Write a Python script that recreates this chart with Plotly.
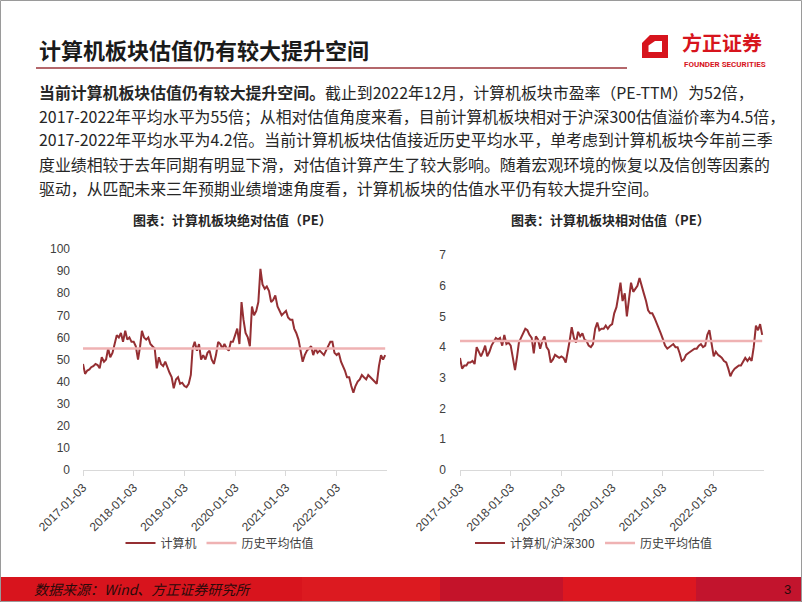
import plotly.graph_objects as go

W, H = 802, 602

def px(x):
    return x / W

def py(y):
    return 1 - y / H

# ---------------- data ----------------
# semi-monthly sampling dates (3rd and 18th of each month), 2017-01 .. 2022-12
dates = [f"{2017 + i // 24}-{(i % 24) // 2 + 1:02d}-{'03' if i % 2 == 0 else '18'}" for i in range(144)]

pe_abs = [
    48, 43.5, 45, 45.5, 46.5, 47, 48, 47.5, 46, 51, 49, 50,
    55, 51, 53, 57, 61, 60, 62, 58, 63, 59, 60, 58,
    58, 56, 50, 56, 63, 60, 59, 60, 57, 56, 55, 46,
    51, 48, 47, 49, 46, 44, 42, 37, 41, 42, 39, 39.5,
    38, 37.5, 39, 43, 55, 58, 54, 57, 50, 52, 50, 53,
    54, 50, 48, 52, 58, 57, 55, 57, 55, 54, 58, 58,
    61, 64, 57, 76, 68, 62, 60, 56, 74, 70, 72, 76,
    91, 84, 82, 83, 81, 76, 77, 79, 74, 72, 70, 71,
    72, 69, 68, 68, 64, 62, 59, 54, 49, 52, 54, 55,
    56, 52, 55, 53, 54, 53, 52, 54, 56, 58, 58, 53,
    52, 53, 49, 47, 45, 42, 42, 38, 35, 38, 40, 41,
    43, 42, 41, 43, 42, 41, 40, 39, 47, 52, 50, 52,
]
pe_abs_avg = 55

pe_rel = [
    3.65, 3.3, 3.4, 3.4, 3.5, 3.5, 3.55, 3.45, 4.0, 3.85, 3.7, 3.85,
    4.05, 3.7, 3.85, 4.05, 4.2, 4.3, 4.25, 4.3, 4.05, 4.4, 4.1, 4.15,
    4.05, 3.7, 3.25, 3.7, 4.15, 4.3, 4.45, 4.6, 4.55, 4.4, 4.3, 3.8,
    4.35, 4.25, 3.95, 4.2, 4.35, 4.0, 3.9, 3.5, 3.6, 3.75, 3.7, 3.65,
    3.7, 3.65, 3.5, 3.85, 4.2, 4.65, 4.3, 4.15, 4.5, 4.35, 4.45, 4.25,
    4.2, 4.05, 4.0, 4.1, 4.6, 4.8, 4.55, 4.6, 4.6, 4.7, 4.6, 4.7,
    4.75, 5.1, 5.3, 5.7, 6.1, 5.5, 5.75, 5.0, 5.5, 6.1, 5.8, 5.9,
    6.0, 6.25, 5.95, 5.75, 5.5, 5.2, 5.1, 5.1, 4.95, 4.8, 4.65, 4.45,
    4.25, 4.05, 3.95, 4.0, 4.05, 4.1, 4.0, 4.0, 3.8, 3.55, 3.6, 3.75,
    3.8, 3.85, 3.9, 3.95, 3.95, 4.05, 4.1, 4.0, 4.05, 4.4, 4.55, 4.2,
    3.7, 3.85, 3.75, 3.7, 3.65, 3.55, 3.5, 3.3, 3.05, 3.2, 3.3, 3.35,
    3.4, 3.4, 3.55, 3.65, 3.55, 3.65, 3.55, 4.0, 4.7, 4.55, 4.75, 4.4,
]
pe_rel_avg = 4.2

tick_dates = ["2017-01-03", "2018-01-03", "2019-01-03", "2020-01-03", "2021-01-03", "2022-01-03"]
abs_yticks = [0, 10, 20, 30, 40, 50, 60, 70, 80, 90, 100]
rel_yticks = [0, 1, 2, 3, 4, 5, 6, 7]

main_title = "计算机板块估值仍有较大提升空间"
para_lines = [
    "<b>当前计算机板块估值仍有较大提升空间。</b>截止到2022年12月，计算机板块市盈率（PE-TTM）为52倍，",
    "2017-2022年平均水平为55倍；从相对估值角度来看，目前计算机板块相对于沪深300估值溢价率为4.5倍，",
    "2017-2022年平均水平为4.2倍。当前计算机板块估值接近历史平均水平，单考虑到计算机板块今年前三季",
    "度业绩相较于去年同期有明显下滑，对估值计算产生了较大影响。随着宏观环境的恢复以及信创等因素的",
    "驱动，从匹配未来三年预期业绩增速角度看，计算机板块的估值水平仍有较大提升空间。",
]
chart1_title = "<b>图表：计算机板块绝对估值（PE）</b>"
chart2_title = "<b>图表：计算机板块相对估值（PE）</b>"
s1_name, s1_avg_name = "计算机", "历史平均估值"
s2_name, s2_avg_name = "计算机/沪深300", "历史平均估值"
source_text = "<i>数据来源：Wind、方正证券研究所</i>"
page_no = "3"

# ---------------- styles ----------------
CJK = "Noto Sans CJK SC"
LAT = "Liberation Sans, Noto Sans CJK SC"
MAIN = "#952f33"
AVG = "#efb2b3"
RED = "#d7141d"

fig = go.Figure()

fig.add_trace(go.Scatter(x=dates, y=pe_abs, mode="lines", name=s1_name,
                         line=dict(color=MAIN, width=2), xaxis="x", yaxis="y", legend="legend"))
fig.add_trace(go.Scatter(x=dates, y=[pe_abs_avg] * len(dates), mode="lines", name=s1_avg_name,
                         line=dict(color=AVG, width=2.6), xaxis="x", yaxis="y", legend="legend"))
fig.add_trace(go.Scatter(x=dates, y=pe_rel, mode="lines", name=s2_name,
                         line=dict(color=MAIN, width=2), xaxis="x2", yaxis="y2", legend="legend2"))
fig.add_trace(go.Scatter(x=dates, y=[pe_rel_avg] * len(dates), mode="lines", name=s2_avg_name,
                         line=dict(color=AVG, width=2.6), xaxis="x2", yaxis="y2", legend="legend2"))

xcommon = dict(type="date", range=["2017-01-03", "2022-12-31"], tickvals=tick_dates, ticktext=tick_dates,
               tickangle=-45, tickfont=dict(family=LAT, size=12, color="#404040"),
               showgrid=False, zeroline=False, showline=True, linecolor="#d9d9d9", linewidth=1,
               ticks="outside", ticklen=5, tickcolor="#d9d9d9", fixedrange=True, automargin=False)
ycommon = dict(showgrid=False, zeroline=False, showline=False, ticks="",
               tickfont=dict(family=LAT, size=12, color="#404040"),
               fixedrange=True, automargin=False)

fig.update_layout(
    width=W, height=H, autosize=False,
    margin=dict(l=0, r=0, t=0, b=0, pad=0, autoexpand=False),
    paper_bgcolor="white", plot_bgcolor="white",
    xaxis=dict(domain=[px(83), px(387)], anchor="y", **xcommon),
    yaxis=dict(domain=[py(470), py(249)], range=[0, 100], tickvals=abs_yticks, anchor="x",
               ticklabelstandoff=12, **ycommon),
    xaxis2=dict(domain=[px(460), px(764)], anchor="y2", **xcommon),
    yaxis2=dict(domain=[py(470), py(255)], range=[0, 7], tickvals=rel_yticks, anchor="x2",
                ticklabelstandoff=13, **ycommon),
    legend=dict(orientation="h", x=px(220), xanchor="center", y=py(543), yanchor="middle",
                font=dict(family=CJK, size=12, color="#404040"), itemwidth=30, bgcolor="rgba(0,0,0,0)"),
    legend2=dict(orientation="h", x=px(594), xanchor="center", y=py(543), yanchor="middle",
                 font=dict(family=CJK, size=12, color="#404040"), itemwidth=30, bgcolor="rgba(0,0,0,0)"),
    showlegend=True,
)

shapes = []
# slide frame
shapes.append(dict(type="rect", xref="paper", yref="paper", x0=px(0.5), x1=px(801.5), y0=py(601.5), y1=py(0.5),
                   line=dict(color="#9a9a9a", width=1), fillcolor="rgba(0,0,0,0)", layer="above"))
# title underline
shapes.append(dict(type="line", xref="paper", yref="paper", x0=px(36), x1=px(627), y0=py(68), y1=py(68),
                   line=dict(color="#b4676b", width=2)))
# footer band segments
for x0, x1, c in [(0, 302, "#d8141d"), (302, 440, "#dc1a20"), (440, 563, "#c4132a"),
                  (563, 696, "#dc1720"), (696, 802, "#c2142d")]:
    shapes.append(dict(type="rect", xref="paper", yref="paper", x0=px(x0), x1=px(x1), y0=py(602), y1=py(577),
                       line=dict(width=0), fillcolor=c, layer="below"))
# logo icon (frame with cut corner)
def pt(x, y):
    return f"{px(x):.5f},{py(y):.5f}"
logo_path = ("M " + pt(650, 35) + " L " + pt(668, 35) + " L " + pt(668, 58) + " L " + pt(642, 58) +
             " L " + pt(642, 43) + " Z M " + pt(655, 41) + " L " + pt(648.5, 45.5) + " L " + pt(648.5, 52) +
             " L " + pt(662, 52) + " L " + pt(662, 41) + " Z")
shapes.append(dict(type="path", xref="paper", yref="paper", path=logo_path, fillcolor=RED, line=dict(width=0)))
fig.update_layout(shapes=shapes)

ann = []
ann.append(dict(text=f"<b>{main_title}</b>", x=px(37), y=py(49), xanchor="left", yanchor="middle",
                font=dict(family=CJK, size=22, color="#1a1a1a")))
for k, line in enumerate(para_lines):
    ann.append(dict(text=line, x=px(37), y=py(92 + 24 * k), xanchor="left", yanchor="middle",
                    font=dict(family=CJK, size=15.9, color="#262626")))
ann.append(dict(text=chart1_title, x=px(232), y=py(220), xanchor="center", yanchor="middle",
                font=dict(family=CJK, size=13, color="#262626")))
ann.append(dict(text=chart2_title, x=px(610), y=py(220), xanchor="center", yanchor="middle",
                font=dict(family=CJK, size=13, color="#262626")))
ann.append(dict(text="<b>方正证券</b>", x=px(722), y=py(43), xanchor="center", yanchor="middle",
                font=dict(family=CJK, size=20, color=RED)))
ann.append(dict(text="<b>FOUNDER SECURITIES</b>", x=px(725), y=py(64), xanchor="center", yanchor="middle",
                font=dict(family="Roboto, Liberation Sans", size=8, color=RED)))
ann.append(dict(text=source_text, x=px(32), y=py(589), xanchor="left", yanchor="middle",
                font=dict(family=CJK, size=14, color="#2a0b0b")))
ann.append(dict(text=page_no, x=px(793), y=py(589), xanchor="right", yanchor="middle",
                font=dict(family=LAT, size=13, color="#2a0b0b")))
for a in ann:
    a.update(xref="paper", yref="paper", showarrow=False)
fig.update_layout(annotations=ann)

fig.write_html("out.html", config={"displayModeBar": False})
